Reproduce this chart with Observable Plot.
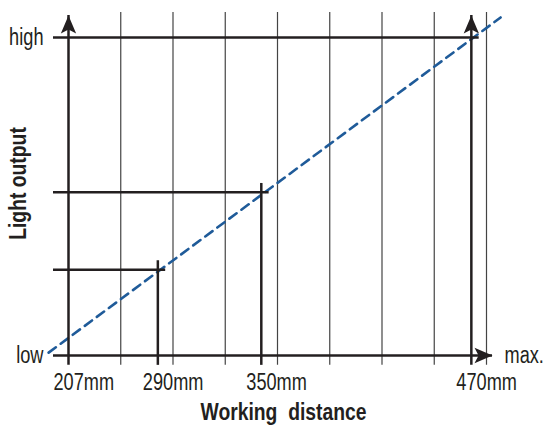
<!DOCTYPE html>
<html>
<head>
<meta charset="utf-8">
<script src="https://cdn.jsdelivr.net/npm/d3@7"></script>
<script src="https://cdn.jsdelivr.net/npm/@observablehq/plot@0.6"></script>
<style>
  html, body { margin: 0; padding: 0; background: #fff; }
  #chart svg { display: block; }
</style>
</head>
<body>
<div id="chart"></div>
<script>
// ---- data (schematic: x in grid units along the distance axis, y = relative light output) ----
const distanceLabels = ["207mm", "290mm", "350mm", "470mm"];
const distancePos = [0, 1.71, 3.69, 7.71];
const lightLevels = [0, 0.27, 0.513, 1.0];
const levelLabels = ["low", "high"];
const levelLabelValues = [0, 1];
const gridPos = [1, 2, 3, 4, 5, 6, 7, 8];
const trendPos = [-0.38, 8.27];
const trendLight = [0.009, 1.063];
const xEndLabel = "max.";
const xTitle = "Working  distance";
const yTitle = "Light output";

// ---- layout config ----
const axisStart = -0.287, axisEnd = 8.115, arrowTop = 1.069, lineBottom = -0.031, gridTop = 1.079;
const ink = "#231f20";

const points = distanceLabels.map((label, i) => ({label, pos: distancePos[i], light: lightLevels[i]}));
const inner = points.slice(1);
const trend = trendPos.map((p, i) => ({pos: p, light: trendLight[i]}));

const arrowUp = {draw(ctx, size) {
  const r = Math.sqrt(size / Math.PI);
  ctx.moveTo(0, 0); ctx.lineTo(r * 0.85, r * 2); ctx.lineTo(0, r * 1.55); ctx.lineTo(-r * 0.85, r * 2); ctx.closePath();
}};
const arrowRight = {draw(ctx, size) {
  const r = Math.sqrt(size / Math.PI);
  ctx.moveTo(0, 0); ctx.lineTo(-r * 2, r * 0.85); ctx.lineTo(-r * 1.55, 0); ctx.lineTo(-r * 2, -r * 0.85); ctx.closePath();
}};

const font = "'Liberation Sans', Arial, sans-serif";

const chart = Plot.plot({
  width: 545, height: 431,
  marginLeft: 68, marginRight: 59, marginTop: 37, marginBottom: 76,
  x: {domain: [0, 8], axis: null},
  y: {domain: [0, 1], axis: null},
  style: {fontFamily: font, background: "#fff", color: ink, overflow: "visible"},
  marks: [
    Plot.ruleX(gridPos, {x: d => d, y1: lineBottom, y2: gridTop, stroke: "#444", strokeWidth: 1.2}),
    Plot.line(trend, {x: "pos", y: "light", stroke: "#1f5b99", strokeWidth: 2.6, strokeDasharray: "9,6"}),
    Plot.ruleY(inner, {y: "light", x1: axisStart, x2: d => d.pos + 0.15, stroke: ink, strokeWidth: 2.5}),
    Plot.ruleX(inner, {x: "pos", y1: lineBottom, y2: d => d.light >= 1 ? arrowTop : d.light + 0.028, stroke: ink, strokeWidth: 2.5}),
    Plot.ruleX([0], {y1: lineBottom, y2: arrowTop, stroke: ink, strokeWidth: 2.5}),
    Plot.ruleY([0], {x1: axisStart, x2: axisEnd, stroke: ink, strokeWidth: 2.5}),
    Plot.dot([0, distancePos[3]], {x: d => d, y: arrowTop, symbol: arrowUp, r: 9, fill: ink, stroke: "none"}),
    Plot.dot([0], {x: axisEnd, y: 0, symbol: arrowRight, r: 9, fill: ink, stroke: "none"}),
    Plot.text(points, {x: "pos", y: 0, text: "label", dy: 27, dx: -15, textAnchor: "start", fontSize: 23, fill: ink}),
    Plot.text(levelLabels, {x: axisStart, y: (d, i) => levelLabelValues[i], text: d => d, dx: -10, textAnchor: "end", fontSize: 23, fill: ink}),
    Plot.text([xEndLabel], {x: axisEnd, y: 0, text: d => d, dx: 12, textAnchor: "start", fontSize: 23, fill: ink}),
    Plot.text([xTitle], {frameAnchor: "bottom", text: d => d, dx: 6, dy: 64, fontSize: 23, fontWeight: "bold", fill: ink}),
    Plot.text([yTitle], {frameAnchor: "left", text: d => d, dx: -50, dy: -13, rotate: -90, textAnchor: "middle", fontSize: 23, fontWeight: "bold", fill: ink})
  ]
});
document.getElementById("chart").appendChild(chart);

// condense the glyphs horizontally (the original uses a condensed typeface)
chart.querySelectorAll("text").forEach(el => {
  const g = el.closest("[font-weight]");
  const bold = g && g.getAttribute("font-weight") === "bold";
  const f = bold ? 0.84 : 0.79;
  const w = el.getComputedTextLength();
  if (w > 0) {
    el.setAttribute("textLength", (w * f).toFixed(1));
    el.setAttribute("lengthAdjust", "spacingAndGlyphs");
  }
});
</script>
</body>
</html>
